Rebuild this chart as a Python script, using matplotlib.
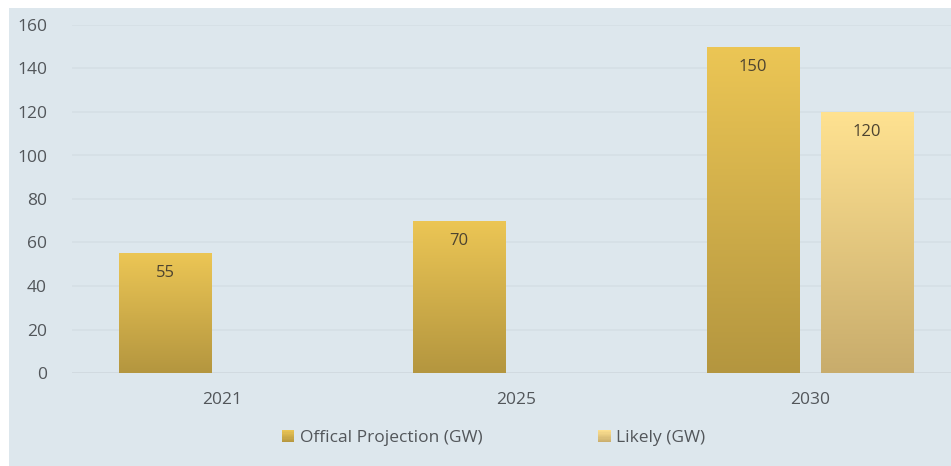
import numpy as np
import matplotlib
matplotlib.use('Agg')
import matplotlib.pyplot as plt
from matplotlib.colors import LinearSegmentedColormap, to_rgb
from matplotlib.patches import Rectangle
from matplotlib.legend_handler import HandlerBase

# Data
years = ['2021', '2025', '2030']
official = [55, 70, 150]
likely = [np.nan, np.nan, 120]
series_names = ['Offical Projection (GW)', 'Likely (GW)']

# Colours (top, bottom of gradient)
official_cols = ('#ecc655', '#b4963f')
likely_cols = ('#ffe291', '#c8ac6c')
bg = '#dde7ed'
grid_c = '#d5dfe5'
text_c = '#52565a'
label_c = '#4d4330'

plt.rcParams['font.family'] = ['Open Sans', 'DejaVu Sans']

W, H = 951, 466
fig = plt.figure(figsize=(W / 100, H / 100), dpi=100)
fig.patch.set_facecolor('white')
fig.patches.append(Rectangle((9 / W, 0), 1 - 9 / W, 1 - 8 / H, transform=fig.transFigure,
                             facecolor=bg, edgecolor='none', zorder=-10))

# plot area in pixels: left 72, right edge of figure, y 0 at 373, 160 at 25
left, right = 72, W
ax = fig.add_axes([left / W, (H - 373) / H, (right - left) / W, (373 - 25) / H])
ax.set_facecolor(bg)
for s in ax.spines.values():
    s.set_visible(False)

unit = 294.0  # px per category
x = np.arange(len(years))

bw = 0.313
off = 0.193


def grad_bars(xpos, vals, cols):
    bars = ax.bar(xpos, vals, bw, facecolor='none', edgecolor='none', zorder=3)
    cmap = LinearSegmentedColormap.from_list('g', [cols[1], cols[0]])
    grad = np.linspace(0, 1, 256).reshape(-1, 1)
    for b, v in zip(bars, vals):
        if np.isnan(v):
            continue
        x0, y0 = b.get_x(), b.get_y()
        im = ax.imshow(grad, cmap=cmap, aspect='auto', origin='lower',
                       extent=[x0, x0 + b.get_width(), y0, y0 + b.get_height()], zorder=3)
        im.set_clip_path(b)
        ax.annotate(f'{v:g}', (b.get_x() + b.get_width() / 2, v), xytext=(0, -20),
                    textcoords='offset pixels', ha='center', va='center',
                    fontsize=12, color=label_c, zorder=5)
    return bars


grad_bars(x - off, official, official_cols)
grad_bars(x + off, likely, likely_cols)
ax.set_xlim(-(222 - left) / unit, (right - 222) / unit)
ax.set_ylim(0, 160)

ax.set_yticks(np.arange(0, 161, 20))
ax.yaxis.grid(True, color=grid_c, linewidth=1.2)
ax.axhline(0, color='#d0d9df', linewidth=1.2, zorder=2)
ax.set_axisbelow(True)
ax.set_xticks(x)
ax.set_xticklabels(years)
ax.tick_params(axis='both', length=0, colors=text_c, labelsize=12.5)
ax.tick_params(axis='y', pad=18)
ax.tick_params(axis='x', pad=14)


class GradHandler(HandlerBase):
    def __init__(self, cols):
        super().__init__()
        self.cols = cols

    def create_artists(self, legend, orig_handle, xdescent, ydescent, width, height,
                       fontsize, trans):
        s = 9
        x0 = -xdescent + width - s
        y0 = -ydescent + (height - s) / 2
        top, bot = np.array(to_rgb(self.cols[0])), np.array(to_rgb(self.cols[1]))
        n = 10
        arts = []
        for i in range(n):
            c = bot + (top - bot) * (i + 0.5) / n
            arts.append(Rectangle((x0, y0 + i * s / n), s, s / n, facecolor=c,
                                  edgecolor='none', transform=trans))
        return arts


h1 = Rectangle((0, 0), 1, 1)
h2 = Rectangle((0, 0), 1, 1)
fig.legend([h1, h2], series_names, loc='center', bbox_to_anchor=(0.52, (H - 438) / H),
           ncol=2, frameon=False, fontsize=12.5, labelcolor=text_c,
           handler_map={h1: GradHandler(official_cols), h2: GradHandler(likely_cols)},
           handlelength=0.6, handletextpad=0.3, columnspacing=6.8)

fig.savefig('out.png', dpi=100)
